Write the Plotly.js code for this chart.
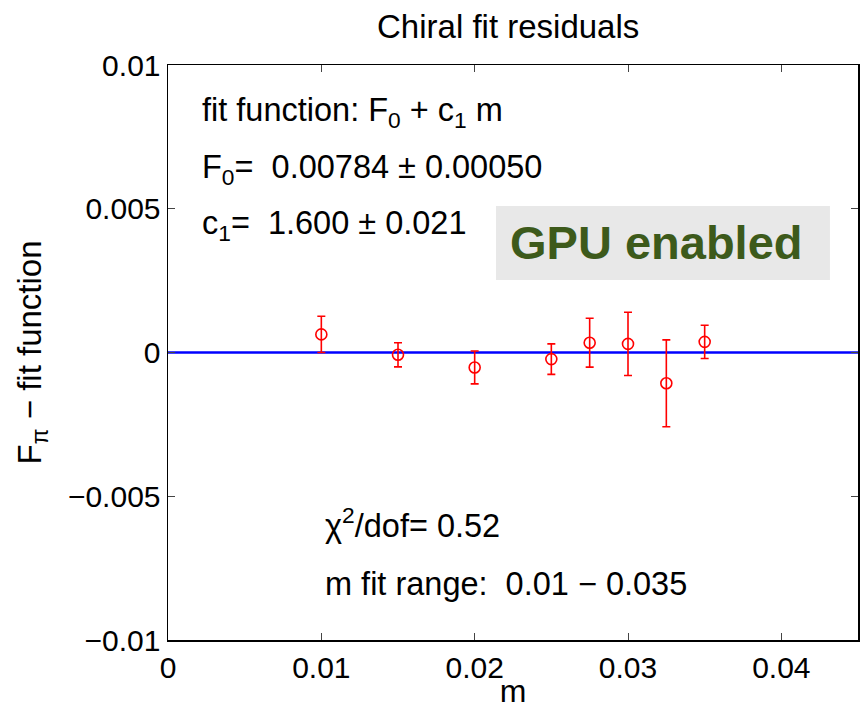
<!DOCTYPE html>
<html>
<head>
<meta charset="utf-8">
<script src="https://cdn.plot.ly/plotly-3.0.1.min.js"></script>
<style>html,body{margin:0;padding:0;background:#fff;}#chart{width:861px;height:709px;}</style>
</head>
<body>
<div id="chart"></div>
<script>
// Data
const mValues = [0.01, 0.015, 0.02, 0.025, 0.0275, 0.03, 0.0325, 0.035];
const residuals = [0.00063, -0.00008, -0.00052, -0.00023, 0.00034, 0.00030, -0.00107, 0.00037];
const residualErrors = [0.00063, 0.00042, 0.00057, 0.00053, 0.00085, 0.00110, 0.00151, 0.00058];
const fitLineX = [0, 0.045];
const fitLineY = [0, 0];
const xTickVals = [0, 0.01, 0.02, 0.03, 0.04];
const xTickText = ['0', '0.01', '0.02', '0.03', '0.04'];
const yTickVals = [-0.01, -0.005, 0, 0.005, 0.01];
const yTickText = ['\u22120.01', '\u22120.005', '0', '0.005', '0.01'];

const FONT = 'Liberation Sans, Arial, Helvetica, sans-serif';

const traces = [
  {
    x: fitLineX, y: fitLineY, mode: 'lines', type: 'scatter',
    line: {color: '#0000ff', width: 2.5}, hoverinfo: 'skip', showlegend: false
  },
  {
    x: mValues, y: residuals, mode: 'markers', type: 'scatter',
    marker: {symbol: 'circle-open', size: 11, color: '#ff0000', line: {width: 1.6, color: '#ff0000'}},
    error_y: {type: 'data', array: residualErrors, visible: true, color: '#ff0000', thickness: 1.6, width: 4},
    showlegend: false
  }
];

const annFont = {family: FONT, size: 32.5, color: '#000'};
const layout = {
  width: 861, height: 709,
  margin: {l: 168, r: 3, t: 65, b: 69, pad: 0},
  paper_bgcolor: '#fff', plot_bgcolor: '#fff',
  showlegend: false,
  title: {text: 'Chiral fit residuals', font: {family: FONT, size: 33, color: '#000'}, x: 0.493, xref: 'paper', y: 0.962, yanchor: 'middle'},
  xaxis: {
    range: [0, 0.045], tickvals: xTickVals, ticktext: xTickText,
    ticks: 'inside', ticklen: 7, tickcolor: '#444', tickwidth: 1,
    showline: true, linecolor: '#000', linewidth: 1.5, mirror: 'ticks',
    showgrid: false, zeroline: false,
    tickfont: {family: FONT, size: 30, color: '#000'},
    title: {text: 'm', font: {family: FONT, size: 32, color: '#000'}, standoff: 0}
  },
  yaxis: {
    range: [-0.01, 0.01], tickvals: yTickVals, ticktext: yTickText,
    ticks: 'inside', ticklen: 7, tickcolor: '#444', tickwidth: 1,
    showline: true, linecolor: '#000', linewidth: 1.5, mirror: 'ticks',
    showgrid: false, zeroline: false,
    tickfont: {family: FONT, size: 30, color: '#000'},
    title: {text: 'F<sub>π</sub> \u2212 fit function', font: {family: FONT, size: 33, color: '#000'}, standoff: 16}
  },
  shapes: [
    {type: 'rect', xref: 'x', yref: 'y', x0: 0.02139, x1: 0.04317, y0: 0.002522, y1: 0.005096,
     fillcolor: '#e8e8e8', line: {width: 0}, layer: 'below'}
  ],
  annotations: [
    {xref: 'x', yref: 'y', x: 0.00209, y: 0.00836, xanchor: 'left', yanchor: 'middle', showarrow: false,
     text: 'fit function: F<sub>0</sub> + c<sub>1</sub> m', font: annFont},
    {xref: 'x', yref: 'y', x: 0.00209, y: 0.00636, xanchor: 'left', yanchor: 'middle', showarrow: false,
     text: 'F<sub>0</sub>=  0.00784 ± 0.00050', font: annFont},
    {xref: 'x', yref: 'y', x: 0.00209, y: 0.00442, xanchor: 'left', yanchor: 'middle', showarrow: false,
     text: 'c<sub>1</sub>=  1.600 ± 0.021', font: annFont},
    {xref: 'x', yref: 'y', x: 0.0222, y: 0.00381, xanchor: 'left', yanchor: 'middle', showarrow: false,
     text: '<b>GPU enabled</b>', font: {family: FONT, size: 47, color: '#3d5a1b'}},
    {xref: 'x', yref: 'y', x: 0.0101, y: -0.00592, xanchor: 'left', yanchor: 'middle', showarrow: false,
     text: 'χ<sup>2</sup>/dof= 0.52', font: annFont},
    {xref: 'x', yref: 'y', x: 0.0101, y: -0.00806, xanchor: 'left', yanchor: 'middle', showarrow: false,
     text: 'm fit range:  0.01 \u2212 0.035', font: annFont}
  ]
};

Plotly.newPlot('chart', traces, layout, {displayModeBar: false, staticPlot: true});
</script>
</body>
</html>
